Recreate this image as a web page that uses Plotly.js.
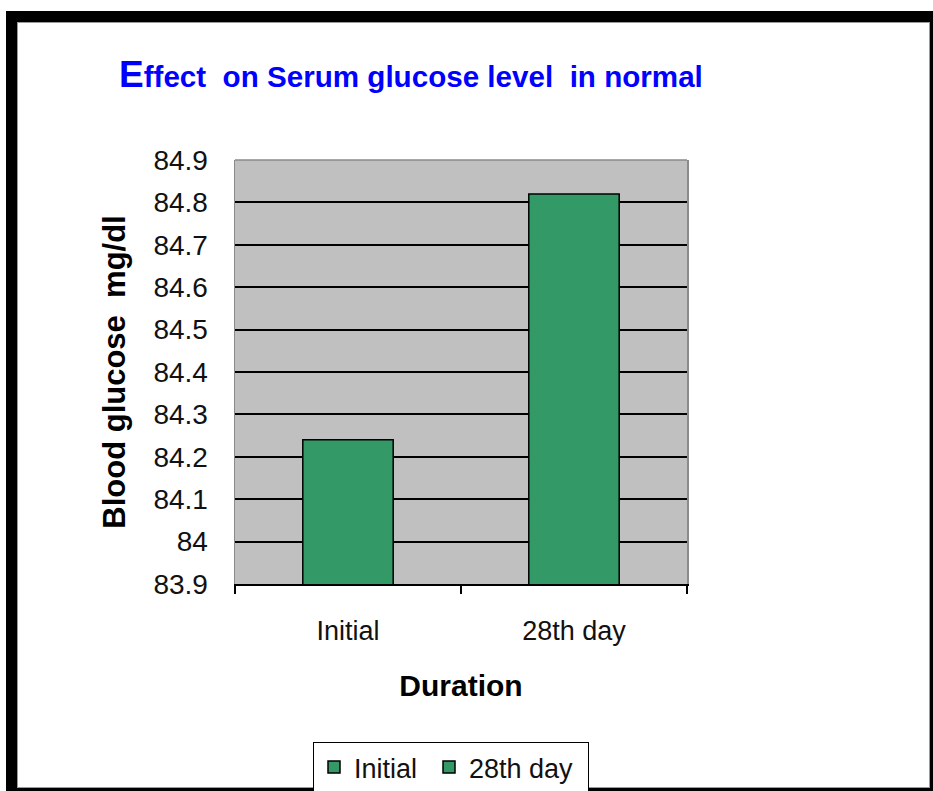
<!DOCTYPE html>
<html>
<head>
<meta charset="utf-8">
<script src="https://cdn.plot.ly/plotly-3.0.1.min.js"></script>
<style>
  html, body { margin: 0; padding: 0; background: #ffffff; }
  #frame { position: absolute; left: 6px; top: 11px; width: 927px; height: 780px;
           box-sizing: border-box; border-left: 11px solid #000; border-top: 11px solid #000;
           border-right: 3px solid #000; border-bottom: 3px solid #000; }
  #inner { position: absolute; left: 17px; top: 22px; width: 913px; height: 766px;
           box-sizing: border-box; border: 1px solid #9a9a9a; }
  #chart { position: absolute; left: 0; top: 0; width: 933px; height: 791px; }
</style>
</head>
<body>
<div id="frame"></div>
<div id="inner"></div>
<div id="chart"></div>
<script>
const categories = ['Initial', '28th day'];
const seriesNames = ['Initial', '28th day'];
const glucoseValues = [84.24, 84.82];
const yTickVals = [83.9, 84.0, 84.1, 84.2, 84.3, 84.4, 84.5, 84.6, 84.7, 84.8, 84.9];
const yTickText = ['83.9', '84', '84.1', '84.2', '84.3', '84.4', '84.5', '84.6', '84.7', '84.8', '84.9'];

const FONT = 'Liberation Sans, Arial, sans-serif';
const legendWidths = [70, 114];

const traces = categories.map((c, i) => ({
  type: 'bar',
  name: seriesNames[i],
  x: [c],
  y: [glucoseValues[i]],
  legendwidth: legendWidths[i],
  marker: { color: '#339966', line: { color: '#000000', width: 1.5 } },
  hoverinfo: 'x+y'
}));

const layout = {
  width: 933, height: 791,
  margin: { l: 235, r: 246, t: 160, b: 207, autoexpand: false },
  paper_bgcolor: 'rgba(0,0,0,0)',
  plot_bgcolor: '#c0c0c0',
  barmode: 'overlay',
  bargap: 0.6,
  font: { family: FONT, color: '#000000' },
  title: {
    text: '<span style="font-size:37px">E</span>ffect&nbsp;&nbsp;on Serum glucose level&nbsp;&nbsp;in normal',
    font: { family: FONT, size: 29.6, color: '#0000ff', weight: 'bold' },
    x: 119 / 933, xref: 'container', xanchor: 'left',
    y: 1 - 87 / 791, yref: 'container', yanchor: 'bottom'
  },
  xaxis: {
    type: 'category',
    categoryorder: 'array', categoryarray: categories,
    showline: true, linecolor: '#000000', linewidth: 1.5,
    ticks: 'outside', tickson: 'boundaries', ticklen: 8, tickcolor: '#000000', tickwidth: 1.5,
    ticklabelstandoff: 22,
    tickfont: { family: FONT, size: 27, color: '#111111' },
    showgrid: false,
    title: { text: 'Duration', font: { family: FONT, size: 30, weight: 'bold', color: '#000000' }, standoff: 30 }
  },
  yaxis: {
    range: [83.9, 84.9],
    tickvals: yTickVals, ticktext: yTickText,
    ticks: '', ticklabelstandoff: 20,
    tickfont: { family: FONT, size: 28, color: '#111111' },
    showgrid: true, gridcolor: '#000000', gridwidth: 2,
    zeroline: false,
    showline: true, mirror: true, linecolor: '#8a8a8a', linewidth: 1.5,
    title: { text: 'Blood glucose&nbsp;&nbsp;mg/dl', font: { family: FONT, size: 31, weight: 'bold', color: '#000000' }, standoff: 18 }
  },
  shapes: [
    { type: 'line', xref: 'paper', yref: 'paper', x0: 0, x1: 1, y0: 1, y1: 1, line: { color: '#8a8a8a', width: 1.5 } }
  ],
  showlegend: true,
  legend: {
    orientation: 'h',
    x: (313 - 235) / 452, xanchor: 'left',
    y: (584 - 742) / 424, yanchor: 'top',
    bgcolor: '#ffffff', bordercolor: '#000000', borderwidth: 1,
    font: { family: FONT, size: 27, color: '#111111' },
    itemwidth: 30
  },
  hovermode: false
};

Plotly.newPlot('chart', traces, layout, { displayModeBar: false, staticPlot: true });
</script>
</body>
</html>
